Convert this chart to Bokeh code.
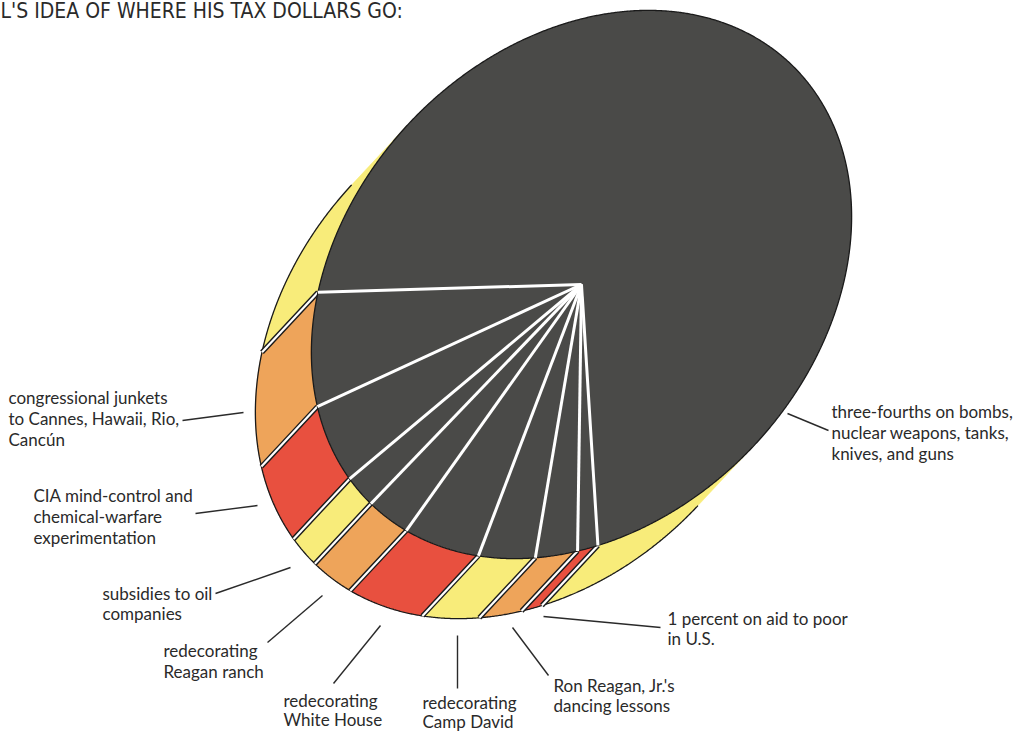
import numpy as np
from bokeh.plotting import figure
from bokeh.models import Range1d
from bokeh.embed import file_html
from bokeh.resources import INLINE
from bokeh.core.properties import value

# ---------------- data ----------------
title_text = "L'S IDEA OF WHERE HIS TAX DOLLARS GO:"
categories = [
    "congressional junkets",
    "CIA mind-control",
    "subsidies to oil companies",
    "redecorating Reagan ranch",
    "redecorating White House",
    "redecorating Camp David",
    "Ron Reagan, Jr.'s dancing lessons",
    "aid to poor in U.S.",
    "bombs, nuclear weapons, tanks, knives, and guns",
]
shares = [6.9, 5.2, 2.2, 3.0, 5.0, 3.5, 2.5, 1.2, 70.5]   # percent
side_colors = ["#eea45a", "#e8503f", "#f8ec7a", "#eea45a", "#e8503f",
               "#f8ec7a", "#eea45a", "#e8503f", "#f8ec7a"]
label_lines = [
    ["congressional junkets", "to Cannes, Hawaii, Rio,", "Cancún"],
    ["CIA mind-control and", "chemical-warfare", "experimentation"],
    ["subsidies to oil", "companies"],
    ["redecorating", "Reagan ranch"],
    ["redecorating", "White House"],
    ["redecorating", "Camp David"],
    ["Ron Reagan, Jr.'s", "dancing lessons"],
    ["1 percent on aid to poor", "in U.S."],
    ["three-fourths on bombs,", "nuclear weapons, tanks,", "knives, and guns"],
]
# label anchor (left x, first-line centre y), line step, leader line (outer end, inner end)
label_pos = [(8, 397), (33, 495), (102, 593), (163, 650), (283, 700), (422, 702),
             (553, 685), (667, 618), (831, 411)]
line_step = [21, 21, 20, 21, 19, 19, 20, 20, 21]
leaders = [((182, 420), (243, 412)), ((195, 513), (257, 505)), ((215, 593), (290, 567)),
           ((267, 642), (322, 595)), ((333, 683), (380, 625)), ((457, 688), (457, 635)),
           ((548, 675), (512, 627)), ((660, 627), (543, 616)), ((828, 430), (787, 413))]

# ---------------- layout / geometry ----------------
W, H = 1019, 732
C = np.array([581.0, 284.0])           # centre of top face (px)
A_AX, B_AX = 304.0, 236.0              # semi-axes of top face
e1 = np.array([0.686, -0.728]); e1 /= np.linalg.norm(e1)
e2 = np.array([0.728, 0.686]); e2 /= np.linalg.norm(e2)
D = np.array([-56.0, 60.0])            # thickness offset
START = np.deg2rad(232.2)

DARK = "#4a4a48"
INK = "#2a2a2a"

def rim(t):
    t = np.asarray(t)
    x = C[0] + A_AX * np.cos(t) * e1[0] + B_AX * np.sin(t) * e2[0]
    y = C[1] + A_AX * np.cos(t) * e1[1] + B_AX * np.sin(t) * e2[1]
    return x, y

def is_front(t):
    nx = B_AX * np.cos(t) * e1[0] + A_AX * np.sin(t) * e2[0]
    ny = B_AX * np.cos(t) * e1[1] + A_AX * np.sin(t) * e2[1]
    return nx * D[0] + ny * D[1] > 0

cum = np.concatenate([[0.0], np.cumsum(shares)])
bounds = START - cum / cum[-1] * 2 * np.pi

p = figure(width=W, height=H, output_backend="svg", toolbar_location=None,
           x_range=Range1d(0, W), y_range=Range1d(H, 0),
           min_border=0, outline_line_color=None)
p.axis.visible = False
p.grid.visible = False
p.background_fill_color = "white"
p.border_fill_color = "white"

# side walls (front-facing parts only)
side_xs, side_ys, side_cols = [], [], []
for i in range(len(shares)):
    ts = np.linspace(bounds[i], bounds[i + 1], 800)
    m = is_front(ts)
    idx = np.where(m)[0]
    if len(idx) == 0:
        continue
    runs = np.split(idx, np.where(np.diff(idx) > 1)[0] + 1)
    for r in runs:
        if len(r) < 2:
            continue
        x, y = rim(ts[r])
        side_xs.append(list(x) + list(x[::-1] + D[0]))
        side_ys.append(list(y) + list(y[::-1] + D[1]))
        side_cols.append(side_colors[i])
p.patches(side_xs, side_ys, fill_color=side_cols, line_color=side_cols, line_width=0.5)

# outer silhouette (front half of the bottom rim)
tt = np.linspace(0, 2 * np.pi, 1440)
fm = is_front(tt)
shift = np.argmax(~fm & np.roll(fm, -1)) + 1
tt_r = np.roll(tt, -shift); fm_r = np.roll(fm, -shift)
tf = tt_r[fm_r]
bx, by = rim(tf)
p.line(list(bx + D[0]), list(by + D[1]), line_color="#1a1a1a", line_width=1.3)

# stripe separators on the side
for t in bounds[:-1]:
    if is_front(t):
        x0, y0 = rim(t)
        p.line([x0, x0 + D[0]], [y0, y0 + D[1]], line_color="#1a1a1a", line_width=5)
        p.line([x0, x0 + D[0]], [y0, y0 + D[1]], line_color="white", line_width=2.2)

# top face
ex, ey = rim(tt)
p.patch(list(ex), list(ey), fill_color=DARK, line_color="#1a1a1a", line_width=1.3)

# radii on the top face
for t in bounds[:-1]:
    x0, y0 = rim(t)
    p.line([C[0], x0], [C[1], y0], line_color="white", line_width=3)

# labels and leaders
FONT = value("Lato")
for (lx, ly), step, lines, (o, inn) in zip(label_pos, line_step, label_lines, leaders):
    p.text(x=[lx] * len(lines), y=[ly + step * k for k in range(len(lines))], text=lines,
           text_font=FONT, text_font_size="17px", text_color=INK,
           text_align="left", text_baseline="middle")
    p.line([o[0], inn[0]], [o[1], inn[1]], line_color=INK, line_width=1.4)

# title
p.text(x=[0], y=[10], text=[title_text], text_font=value("DejaVu Sans Condensed"),
       text_font_size="21px", text_color=INK, text_align="left",
       text_baseline="middle")

open("out.html", "w").write(file_html(p, INLINE))
